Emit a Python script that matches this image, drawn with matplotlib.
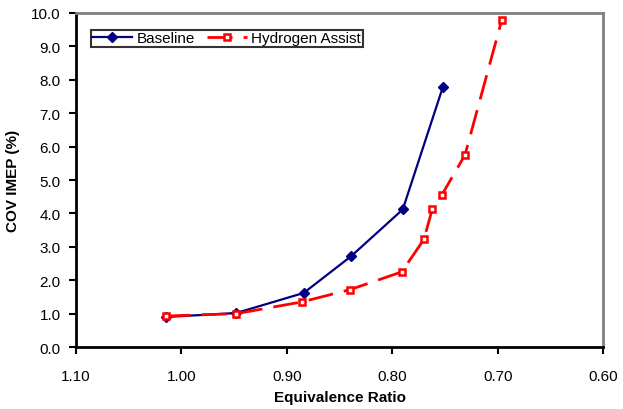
import numpy as np
import matplotlib
matplotlib.use("Agg")
import matplotlib.pyplot as plt

plt.rcParams['font.family'] = ['Liberation Sans', 'DejaVu Sans']

# Daten
base_phi = [1.015, 0.948, 0.884, 0.839, 0.790, 0.752]
base_cov = [0.9, 1.02, 1.62, 2.72, 4.12, 7.78]

h2_phi = [1.015, 0.948, 0.886, 0.840, 0.791, 0.770, 0.762, 0.753, 0.731, 0.696]
h2_cov = [0.93, 1.0, 1.35, 1.72, 2.25, 3.22, 4.13, 4.55, 5.75, 9.8]

xticks = [1.10, 1.00, 0.90, 0.80, 0.70, 0.60]
yticks = np.arange(0, 10.5, 1.0)

fig = plt.figure(figsize=(6.23, 4.10), dpi=100)
ax = fig.add_axes([0.122, 0.151, 0.846, 0.815])

ax.plot(base_phi, base_cov, color='#000080', lw=1.6, marker='D', ms=5,
        mfc='#000080', mec='#000080', label='Baseline', zorder=3)
ax.plot(h2_phi, h2_cov, color='#ff0000', lw=2, dashes=(9, 4), marker='s', ms=5,
        mfc='white', mec='#ff0000', mew=1.8, label='Hydrogen Assist', zorder=4)

ax.set_xlim(1.10, 0.60)
ax.set_ylim(0, 10)
ax.set_xticks(xticks)
ax.set_xticklabels(['%.2f' % v for v in xticks])
ax.set_yticks(yticks)
ax.set_yticklabels(['%.1f' % v for v in yticks])
ax.tick_params(direction='out', length=5, width=1.5, labelsize=11, colors='black')
ax.tick_params(axis='x', pad=11)
ax.tick_params(axis='y', pad=6)

for s in ['left', 'bottom']:
    ax.spines[s].set_linewidth(2)
    ax.spines[s].set_color('black')
for s in ['top', 'right']:
    ax.spines[s].set_linewidth(2)
    ax.spines[s].set_color('#808080')

ax.set_xlabel('Equivalence Ratio', fontsize=11, fontweight='bold', labelpad=5)
ax.set_ylabel('COV IMEP (%)', fontsize=11, fontweight='bold', labelpad=8)

leg = ax.legend(loc='upper left', bbox_to_anchor=(0.028, 0.95), ncol=2,
                frameon=True, fancybox=False, fontsize=11, borderpad=0.1,
                handlelength=2.6, columnspacing=0.8, handletextpad=0.3,
                borderaxespad=0)
leg.get_frame().set_edgecolor('black')
leg.get_frame().set_linewidth(1.5)

fig.savefig('out.png', dpi=100)
